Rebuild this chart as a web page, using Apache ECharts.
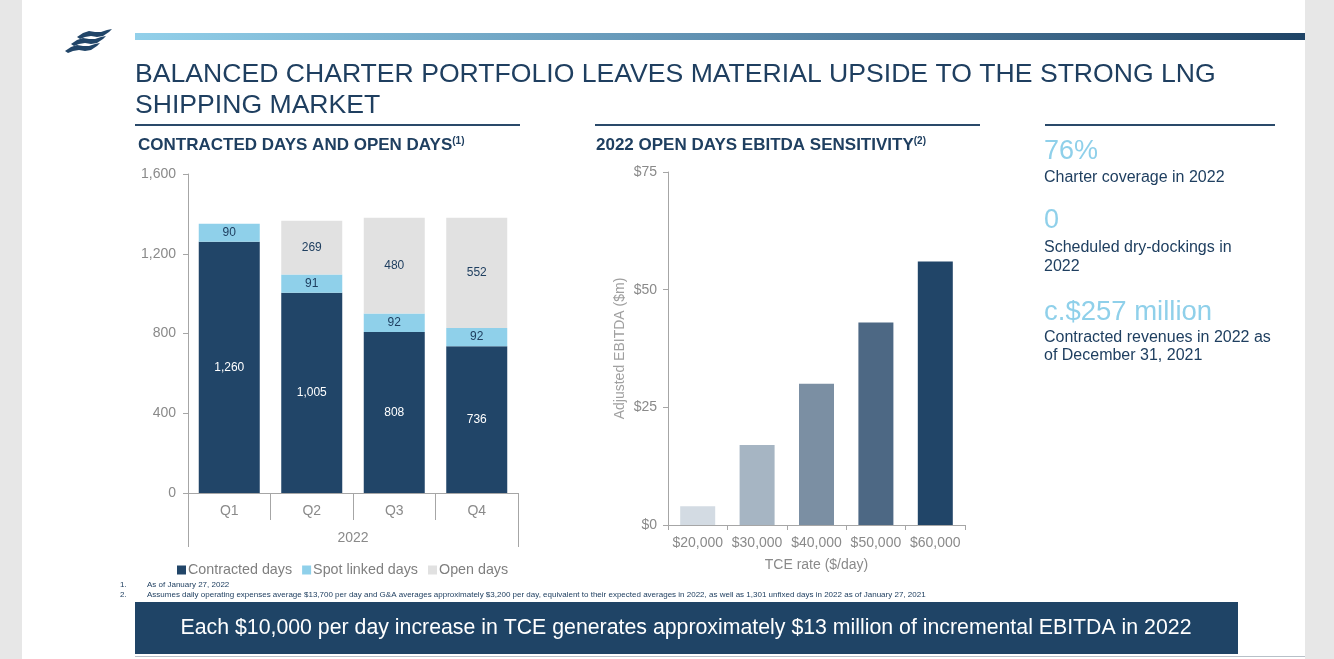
<!DOCTYPE html>
<html>
<head>
<meta charset="utf-8">
<script src="https://cdn.jsdelivr.net/npm/echarts@6/dist/echarts.min.js"></script>
<style>
html,body{margin:0;padding:0;background:#fff;}
#c{width:1334px;height:659px;}
</style>
</head>
<body>
<div id="c"></div>
<script>
// ---- data ----
const quarters = ['Q1', 'Q2', 'Q3', 'Q4'];
const yearLabel = ['2022'];
const contractedDays = [1260, 1005, 808, 736];
const spotLinkedDays = [90, 91, 92, 92];
const openDays = [0, 269, 480, 552];
const daysTicks = [0, 400, 800, 1200, 1600];

const tceRates = ['$20,000', '$30,000', '$40,000', '$50,000', '$60,000'];
const ebitda = [4, 17, 30, 43, 56];
const ebitdaTicks = [0, 25, 50, 75];

const NAVY = '#214568';
const TXT = '#1f3f60';
const LIGHT = '#8fd0ea';
const OPEN = '#e1e1e1';
const GREY_AX = '#a6a6a6';
const GREY_TX = '#8a8a8a';
const FONT = 'Liberation Sans, Arial, sans-serif';
const ebitdaColors = ['#d3dbe3', '#a6b5c3', '#7b8fa3', '#4d6884', '#214568'];

const chart = echarts.init(document.getElementById('c'), null, {renderer: 'canvas'});

function txt(x, y, text, size, color, extra) {
  return {
    type: 'text', x: x, y: y, silent: true,
    style: Object.assign({text: text, fontSize: size, fill: color, fontFamily: FONT, verticalAlign: 'middle', align: 'left'}, extra || {})
  };
}

const bandPoints = [[0,8],[6,4],[12,2],[18,3],[24,3],[30,1],[35,0],[32,3],[26,7],[20,8],[14,7],[8,8],[3,10]];
function wave(x, y) {
  return {type: 'polygon', x: x, y: y, silent: true,
    shape: {points: bandPoints},
    style: {fill: NAVY}};
}

const graphics = [
  // page side bars
  {type: 'rect', shape: {x: 0, y: 0, width: 22, height: 659}, style: {fill: '#e7e7e7'}, silent: true},
  {type: 'rect', shape: {x: 1305, y: 0, width: 29, height: 659}, style: {fill: '#e7e7e7'}, silent: true},
  // top gradient bar
  {type: 'rect', shape: {x: 135, y: 33, width: 1170, height: 7}, silent: true,
    style: {fill: new echarts.graphic.LinearGradient(0, 0, 1, 0, [{offset: 0, color: '#92d0ea'}, {offset: 0.5, color: '#5f8fb0'}, {offset: 1, color: '#1f4466'}])}},
  // logo
  wave(77, 29), wave(71, 36), wave(65, 43),
  // title
  txt(135, 75, 'BALANCED CHARTER PORTFOLIO LEAVES MATERIAL UPSIDE TO THE STRONG LNG', 26.6, TXT),
  txt(135, 106, 'SHIPPING MARKET', 26.6, TXT),
  // section rules
  {type: 'rect', shape: {x: 135, y: 124, width: 385, height: 2}, style: {fill: '#2a4a6a'}, silent: true},
  {type: 'rect', shape: {x: 595, y: 124, width: 385, height: 2}, style: {fill: '#2a4a6a'}, silent: true},
  {type: 'rect', shape: {x: 1045, y: 124, width: 230, height: 2}, style: {fill: '#2a4a6a'}, silent: true},
  // subtitles
  {type: 'text', x: 138, y: 145, silent: true, style: {
    text: '{t|CONTRACTED DAYS AND OPEN DAYS}{s|(1)}', verticalAlign: 'middle', fontFamily: FONT,
    rich: {t: {fontSize: 17, fontWeight: 'bold', fill: TXT, fontFamily: FONT}, s: {fontSize: 10, fontWeight: 'bold', fill: TXT, verticalAlign: 'top', fontFamily: FONT}}}},
  {type: 'text', x: 596, y: 145, silent: true, style: {
    text: '{t|2022 OPEN DAYS EBITDA SENSITIVITY}{s|(2)}', verticalAlign: 'middle', fontFamily: FONT,
    rich: {t: {fontSize: 17, fontWeight: 'bold', fill: TXT, fontFamily: FONT}, s: {fontSize: 10, fontWeight: 'bold', fill: TXT, verticalAlign: 'top', fontFamily: FONT}}}},
  // right panel
  txt(1044, 152, '76%', 27, LIGHT),
  txt(1044, 178, 'Charter coverage in 2022', 16, TXT),
  txt(1044, 221, '0', 27, LIGHT),
  txt(1044, 248, 'Scheduled dry-dockings in', 16, TXT),
  txt(1044, 267, '2022', 16, TXT),
  txt(1044, 312, 'c.$257 million', 27.5, LIGHT),
  txt(1044, 338, 'Contracted revenues in 2022 as', 16, TXT),
  txt(1044, 356, 'of December 31, 2021', 16, TXT),
  // footnotes
  txt(120, 585, '1.', 8, TXT),
  txt(147, 585, 'As of January 27, 2022', 8, TXT),
  txt(120, 595, '2.', 8, TXT),
  txt(147, 595, 'Assumes daily operating expenses average $13,700 per day and G&A averages approximately $3,200 per day, equivalent to their expected averages in 2022, as well as 1,301 unfixed days in 2022 as of January 27, 2021', 8, TXT),
  // banner
  {type: 'rect', shape: {x: 135, y: 602, width: 1103, height: 52}, style: {fill: '#1f4466'}, silent: true},
  txt(686, 628, 'Each $10,000 per day increase in TCE generates approximately $13 million of incremental EBITDA in 2022', 21.3, '#ffffff', {align: 'center'}),
  {type: 'rect', shape: {x: 135, y: 656, width: 1170, height: 1}, style: {fill: '#b8c0c8'}, silent: true}
];

const fmtNum = v => v.toLocaleString('en-US');

const option = {
  animation: false,
  textStyle: {fontFamily: FONT},
  graphic: graphics,
  legend: {
    left: 172, top: 558, itemWidth: 9, itemHeight: 9, itemGap: 10, icon: 'rect',
    textStyle: {fontSize: 14.3, color: '#7f7f7f', fontFamily: FONT, padding: [0, 0, 0, -3]},
    data: ['Contracted days', 'Spot linked days', 'Open days']
  },
  grid: [
    {left: 188, top: 174, width: 330, height: 319, containLabel: false},
    {left: 668, top: 172, width: 297, height: 353, containLabel: false}
  ],
  xAxis: [
    {type: 'category', gridIndex: 0, data: quarters,
      axisLine: {lineStyle: {color: GREY_AX}},
      axisTick: {show: true, length: 27, alignWithLabel: false, lineStyle: {color: GREY_AX}},
      axisLabel: {color: GREY_TX, fontSize: 14, margin: 11, fontFamily: FONT, interval: 0}},
    {type: 'category', gridIndex: 0, data: yearLabel, position: 'bottom',
      axisLine: {show: false},
      axisTick: {show: true, length: 54, lineStyle: {color: GREY_AX}},
      axisLabel: {color: GREY_TX, fontSize: 14, margin: 38, fontFamily: FONT}},
    {type: 'category', gridIndex: 1, data: tceRates,
      name: 'TCE rate ($/day)', nameLocation: 'middle', nameGap: 33,
      nameTextStyle: {color: GREY_TX, fontSize: 14, fontFamily: FONT},
      axisLine: {lineStyle: {color: GREY_AX}},
      axisTick: {show: true, length: 5, lineStyle: {color: GREY_AX}},
      axisLabel: {color: GREY_TX, fontSize: 14, margin: 11, fontFamily: FONT, interval: 0, hideOverlap: false}}
  ],
  yAxis: [
    {type: 'value', gridIndex: 0, min: daysTicks[0], max: daysTicks[daysTicks.length - 1], interval: 400,
      axisLine: {show: true, lineStyle: {color: GREY_AX}},
      axisTick: {show: true, length: 5, lineStyle: {color: GREY_AX}},
      splitLine: {show: false},
      axisLabel: {color: GREY_TX, fontSize: 14, margin: 12, formatter: fmtNum, fontFamily: FONT}},
    {type: 'value', gridIndex: 1, min: ebitdaTicks[0], max: ebitdaTicks[ebitdaTicks.length - 1], interval: 25,
      name: 'Adjusted EBITDA ($m)', nameLocation: 'middle', nameGap: 41, nameRotate: 90,
      nameTextStyle: {color: '#a0a0a0', fontSize: 14, fontFamily: FONT},
      axisLine: {show: true, lineStyle: {color: GREY_AX}},
      axisTick: {show: true, length: 5, lineStyle: {color: GREY_AX}},
      splitLine: {show: false},
      axisLabel: {color: GREY_TX, fontSize: 14, margin: 11, formatter: v => '$' + v, fontFamily: FONT}}
  ],
  series: [
    {name: 'Contracted days', type: 'bar', stack: 'd', xAxisIndex: 0, yAxisIndex: 0, barWidth: 61,
      data: contractedDays, itemStyle: {color: NAVY},
      label: {show: true, position: 'inside', color: '#ffffff', fontSize: 12, formatter: p => fmtNum(p.value)}},
    {name: 'Spot linked days', type: 'bar', stack: 'd', xAxisIndex: 0, yAxisIndex: 0, barWidth: 61,
      data: spotLinkedDays, itemStyle: {color: LIGHT},
      label: {show: true, position: 'inside', color: TXT, fontSize: 12}},
    {name: 'Open days', type: 'bar', stack: 'd', xAxisIndex: 0, yAxisIndex: 0, barWidth: 61,
      data: openDays, itemStyle: {color: OPEN},
      label: {show: true, position: 'inside', color: TXT, fontSize: 12, formatter: p => p.value ? fmtNum(p.value) : ''}},
    {name: 'EBITDA', type: 'bar', xAxisIndex: 2, yAxisIndex: 1, barWidth: 35,
      data: ebitda.map((v, i) => ({value: v, itemStyle: {color: ebitdaColors[i]}}))}
  ]
};
chart.setOption(option);
</script>
</body>
</html>
